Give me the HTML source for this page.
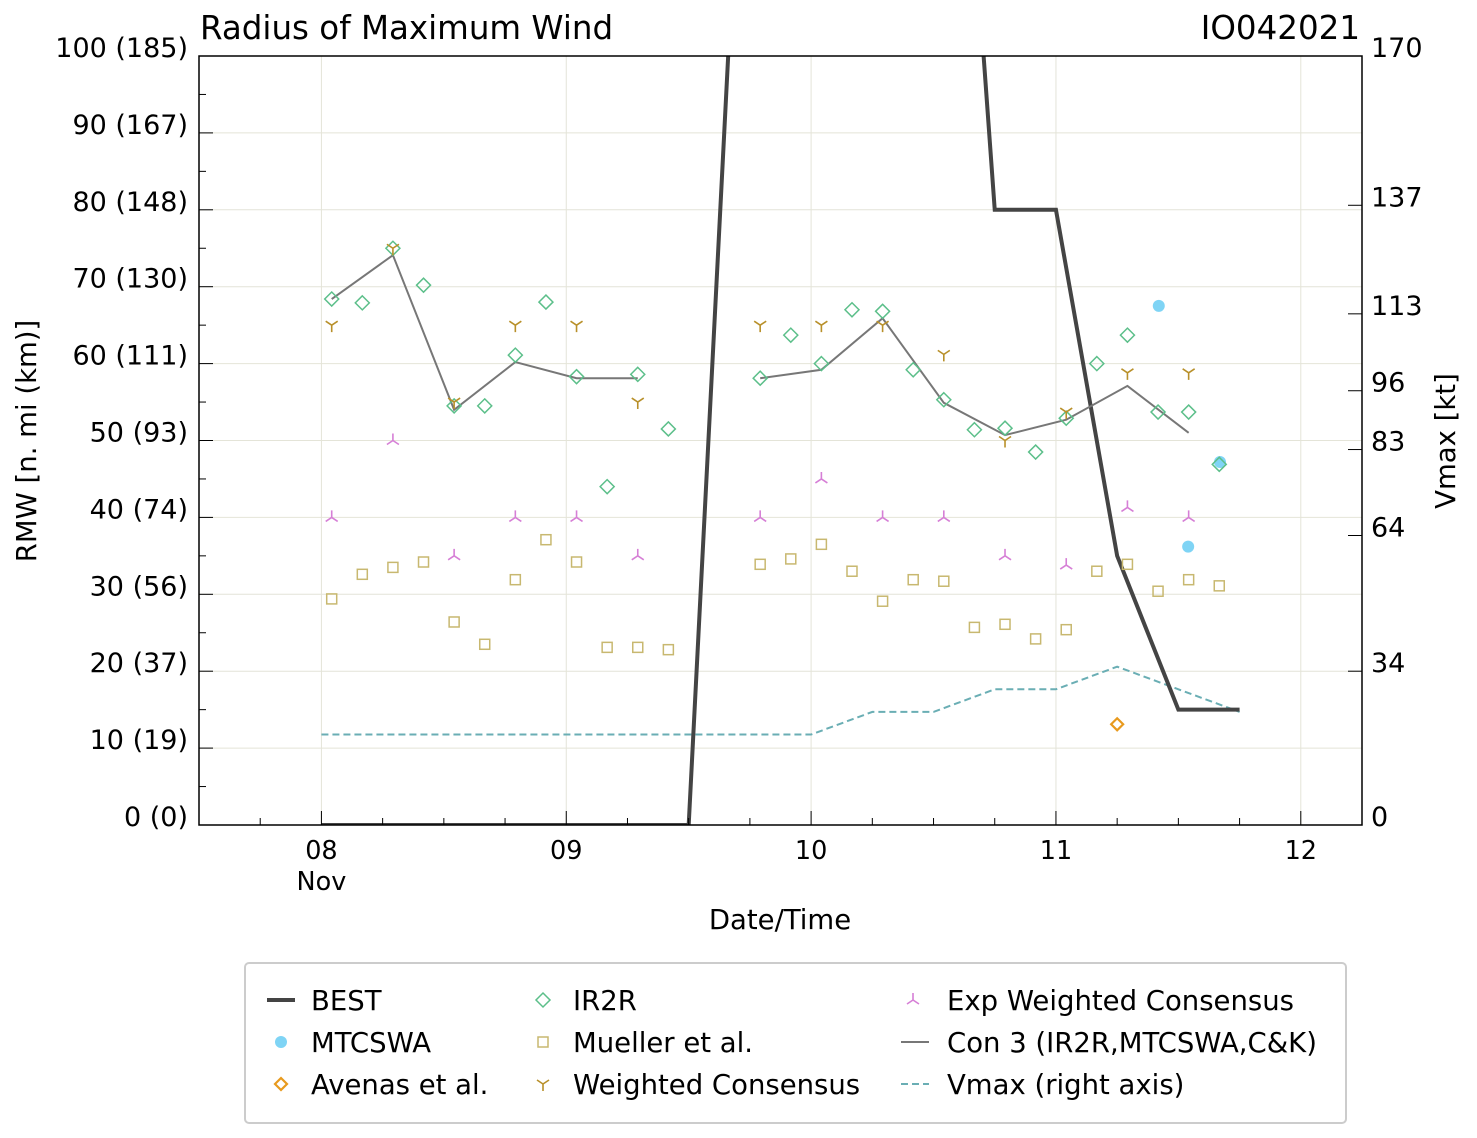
<!DOCTYPE html>
<html><head><meta charset="utf-8"><style>
body{margin:0;background:#fff}
svg{display:block;font-family:"DejaVu Sans","Liberation Sans",sans-serif}
</style></head><body>
<svg id="chart" width="1477" height="1138" viewBox="0 0 1477 1138" xmlns="http://www.w3.org/2000/svg">
<rect width="1477" height="1138" fill="#fff"/>
<defs><clipPath id="plotclip"><rect x="199" y="56" width="1163" height="769"/></clipPath></defs>
<g id="grid"></g>
<g id="series" clip-path="url(#plotclip)"></g>
<rect x="199" y="56" width="1163" height="769" fill="none" stroke="#000" stroke-width="1.5"/>
<g id="axes"></g>
<text x="200" y="39" font-size="32.5">Radius of Maximum Wind</text>
<text x="1360" y="39" font-size="32.5" text-anchor="end">IO042021</text>
<text x="780" y="929" font-size="27.5" text-anchor="middle">Date/Time</text>
<text transform="translate(36,441) rotate(-90)" font-size="27.5" text-anchor="middle">RMW [n. mi (km)]</text>
<text transform="translate(1455,441) rotate(-90)" font-size="27.5" text-anchor="middle">Vmax [kt]</text>
<g id="legend">
<rect x="245" y="963" width="1101" height="160" rx="4" fill="#fff" stroke="#ccc" stroke-width="2"/>
</g>
</svg>
<script>
const NS="http://www.w3.org/2000/svg";
const xTicks=[8,9,10,11,12];
const xTickLabels=["08","09","10","11","12"];
const yTicks=[0,10,20,30,40,50,60,70,80,90,100];
const yTickLabels=["0 (0)","10 (19)","20 (37)","30 (56)","40 (74)","50 (93)","60 (111)","70 (130)","80 (148)","90 (167)","100 (185)"];
const rTicks=[0,34,64,83,96,113,137,170];
// time index k => 8.042 + k*0.125 days
const ir2rK=[0,1,2,3,4,5,6,7,8,9,10,11,14,15,16,17,18,19,20,21,22,23,24,25,26,27,28,29];
const ir2rV=[68.4,67.9,75.0,70.2,54.5,54.5,61.1,68.0,58.3,44.0,58.6,51.5,58.1,63.7,60.0,67.0,66.8,59.2,55.3,51.4,51.6,48.5,52.9,60.0,63.7,53.7,53.7,46.9];
const muelK=[0,1,2,3,4,5,6,7,8,9,10,11,14,15,16,17,18,19,20,21,22,23,24,25,26,27,28,29];
const muelV=[29.4,32.6,33.5,34.2,26.4,23.5,31.9,37.1,34.2,23.1,23.1,22.8,33.9,34.6,36.5,33.0,29.1,31.9,31.7,25.7,26.1,24.2,25.4,33.0,33.9,30.4,31.9,31.1];
const wcK=[0,2,4,6,8,10,14,16,18,20,22,24,26,28];
const wcV=[65,75,55,65,65,55,65,65,65,61.2,50,53.7,58.8,58.8];
const ewcK=[0,2,4,6,8,10,14,16,18,20,22,24,26,28];
const ewcV=[40,50,35,40,40,35,40,45,40,40,35,33.8,41.3,40];
const con3K=[0,2,4,6,8,10,null,14,16,18,20,22,24,26,28];
const con3V=[68.4,74.1,54,60.2,58.1,58.1,null,58.1,59.2,65.9,54.9,50.7,52.7,57.1,51];
const mtcT=[11.42,11.54,11.67];
const mtcV=[67.5,36.2,47.2];
const avenasT=[11.25];
const avenasV=[13.1];
const bestT=[8.0,8.25,8.5,8.75,9.0,9.25,9.5,9.75,10.0,10.25,10.5,10.75,11.0,11.25,11.5,11.75];
const bestV=[0,0,0,0,0,0,0,155,170,180,190,80,80,35,15,15];
const vmaxT=[8.0,8.25,8.5,8.75,9.0,9.25,9.5,9.75,10.0,10.25,10.5,10.75,11.0,11.25,11.5,11.75];
const vmaxKt=[20,20,20,20,20,20,20,20,20,25,25,30,30,35,30,25];

const X=t=>199+(t-7.5)*(1163/4.75);
const Y=v=>825-v*7.69;
const YR=kt=>Y(kt/1.7);
const T=k=>8.042+k*0.125;
function el(tag,attrs,parent,text){const e=document.createElementNS(NS,tag);for(const a in attrs)e.setAttribute(a,attrs[a]);if(text!==undefined)e.textContent=text;parent.appendChild(e);return e;}
const grid=document.getElementById('grid'),axes=document.getElementById('axes'),series=document.getElementById('series'),legend=document.getElementById('legend');
xTicks.forEach((t,i)=>{
 const g=el('line',{x1:X(t),x2:X(t),y1:56,y2:825,stroke:'#e4e4d8','stroke-width':1},grid);
 
 
 const tx=el('text',{x:X(t),y:859,'font-size':25.5,'text-anchor':'middle'},axes,xTickLabels[i]);
 
 
});
const nov=el('text',{x:X(8),y:890,'font-size':25.5,'text-anchor':'middle'},axes,'Nov');


for(let t=7.75;t<=12.25;t+=0.25){const big=Math.abs(t-Math.round(t))<1e-6;el('line',{x1:X(t),x2:X(t),y1:825,y2:825-(big?14:7),stroke:'#000','stroke-width':1},axes);}
yTicks.forEach((v,i)=>{
 const g=el('line',{x1:199,x2:1362,y1:Y(v),y2:Y(v),stroke:'#e4e4d8','stroke-width':1},grid);
 
 
 const tx=el('text',{x:188,y:Y(v)+1,'font-size':27,'text-anchor':'end'},axes,yTickLabels[i]);
 
 
});
for(let v=0;v<=100;v+=5){el('line',{x1:199,x2:199+(v%10===0?14:7),y1:Y(v),y2:Y(v),stroke:'#000','stroke-width':1},axes);}
rTicks.forEach(k=>{
 el('line',{x1:1362,x2:1348,y1:YR(k),y2:YR(k),stroke:'#000','stroke-width':1},axes);
 const tx=el('text',{x:1371,y:YR(k)+1,'font-size':27},axes,String(k));
 
 
});
function poly(ts,vs,yf,attrs,name){let segs=[],cur=[];ts.forEach((t,i)=>{if(t===null||vs[i]===null){if(cur.length)segs.push(cur);cur=[];}else cur.push(X(t)+','+yf(vs[i]));});if(cur.length)segs.push(cur);
 segs.forEach(s=>{const p=el('polyline',Object.assign({points:s.join(' '),fill:'none'},attrs),series);
 
 });}
function marker(type,x,y,g){
 if(type==='diamond')return el('path',{d:`M${x},${y-7}L${x+7},${y}L${x},${y+7}L${x-7},${y}Z`,fill:'none',stroke:'#5cbf8a','stroke-width':1.5},g);
 if(type==='square')return el('rect',{x:x-5,y:y-5,width:10,height:10,fill:'none',stroke:'#c8b870','stroke-width':1.5},g);
 if(type==='circle')return el('circle',{cx:x,cy:y,r:6,fill:'#7fd4f5'},g);
 if(type==='avenas')return el('path',{d:`M${x},${y-6}L${x+6},${y}L${x},${y+6}L${x-6},${y}Z`,fill:'none',stroke:'#e89a1e','stroke-width':2.2},g);
 if(type==='tridown')return el('path',{d:`M${x},${y}V${y+7}M${x},${y}L${x-6},${y-4}M${x},${y}L${x+6},${y-4}`,fill:'none',stroke:'#b8902a','stroke-width':1.6},g);
 if(type==='triup')return el('path',{d:`M${x},${y}V${y-7}M${x},${y}L${x-6},${y+4}M${x},${y}L${x+6},${y+4}`,fill:'none',stroke:'#d67fd6','stroke-width':1.6},g);
}
poly(vmaxT,vmaxKt,YR,{stroke:'#6aaeb4','stroke-width':2,'stroke-dasharray':'7,4'},'vmax-line');
poly(bestT,bestV,Y,{stroke:'#444','stroke-width':4},'best-track-line');
poly(con3K.map(k=>k===null?null:T(k)),con3V,Y,{stroke:'#777','stroke-width':2},'con3-line');
muelK.forEach((k,i)=>{const m=marker('square',X(T(k)),Y(muelV[i]),series);
 
 });
mtcT.forEach((t,i)=>{const m=marker('circle',X(t),Y(mtcV[i]),series);
 
 });
ir2rK.forEach((k,i)=>{const m=marker('diamond',X(T(k)),Y(ir2rV[i]),series);
 
 });
wcK.forEach((k,i)=>{const m=marker('tridown',X(T(k)),Y(wcV[i]),series);
 
 });
ewcK.forEach((k,i)=>{const m=marker('triup',X(T(k)),Y(ewcV[i]),series);
 
 });
avenasT.forEach((t,i)=>{const m=marker('avenas',X(t),Y(avenasV[i]),series);
 
 });
// legend
const L=[
 [281,311,1000,'BEST','lineBest'],[281,311,1042,'MTCSWA','circle'],[281,311,1084,'Avenas et al.','avenas'],
 [543,573,1000,'IR2R','diamond'],[543,573,1042,'Mueller et al.','square'],[543,573,1084,'Weighted Consensus','tridown'],
 [913,947,1000,'Exp Weighted Consensus','triup'],[913,947,1042,'Con 3 (IR2R,MTCSWA,C&K)','lineCon'],[913,947,1084,'Vmax (right axis)','lineVmax']];
L.forEach(([mx,tx,y,label,type])=>{
 const g=el('g',{},legend);
 
 
 if(type==='lineBest')el('line',{x1:mx-14,x2:mx+14,y1:y,y2:y,stroke:'#444','stroke-width':4},g);
 else if(type==='lineCon')el('line',{x1:mx-12,x2:mx+16,y1:y,y2:y,stroke:'#777','stroke-width':2},g);
 else if(type==='lineVmax')el('line',{x1:mx-12,x2:mx+16,y1:y,y2:y,stroke:'#6aaeb4','stroke-width':2,'stroke-dasharray':'7,4'},g);
 else marker(type,mx,y,g);
 el('text',{x:tx,y:y+10,'font-size':27.5},g,label);
});
</script>
</body></html>
